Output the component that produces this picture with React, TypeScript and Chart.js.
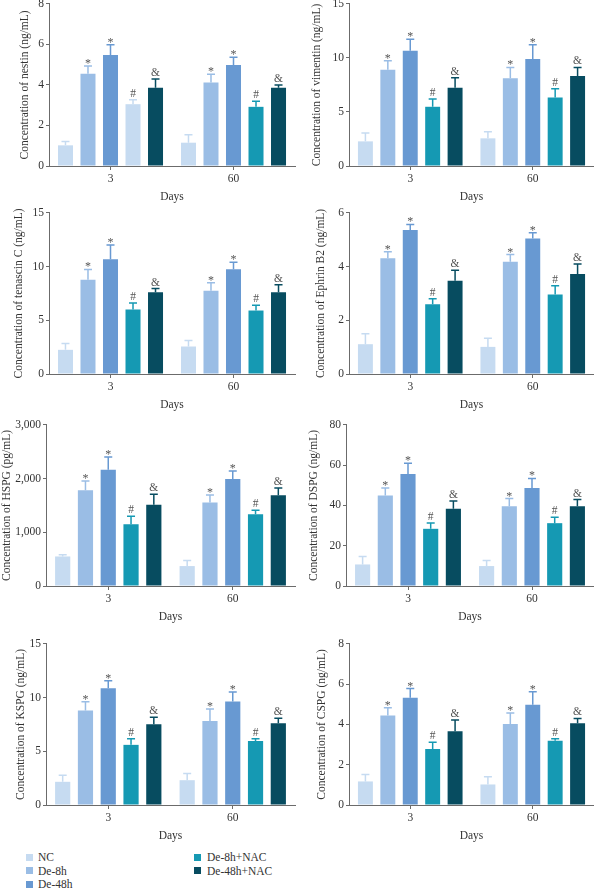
import React, { useEffect, useRef } from 'react';
import { Chart, registerables } from 'chart.js';

Chart.register(...registerables);

// ---------- data ----------
const days = ['3', '60'];
const groups = ['NC', 'De-8h', 'De-48h', 'De-8h+NAC', 'De-48h+NAC'];
const groupColors = ['#c6dbf1', '#9abde5', '#6899d2', '#1599b3', '#074c60'];
const groupMarks = ['', '*', '*', '#', '&'];

// each row = one group, values for [day 3, day 60]
const nestinMean = [[1.02, 1.15], [4.55, 4.12], [5.48, 4.99], [3.05, 2.92], [3.86, 3.86]];
const nestinSD = [[0.19, 0.39], [0.38, 0.41], [0.5, 0.38], [0.22, 0.28], [0.43, 0.14]];
// in the source figure the day-3 De-8h+NAC bar of the nestin panel is drawn pale
const nestinColors = [null, null, null, ['#c6dbf1', '#1599b3'], null];

const vimentinMean = [[2.28, 2.56], [8.9, 8.13], [10.66, 9.89], [5.48, 6.34], [7.24, 8.32]];
const vimentinSD = [[0.77, 0.61], [0.83, 0.99], [1.07, 1.32], [0.71, 0.8], [0.92, 0.8]];

const tenascinMean = [[2.25, 2.56], [8.78, 7.76], [10.69, 9.76], [6.0, 5.91], [7.61, 7.61]];
const tenascinSD = [[0.58, 0.55], [0.95, 0.74], [1.32, 0.65], [0.62, 0.5], [0.34, 0.71]];

const ephrinMean = [[1.11, 1.01], [4.31, 4.18], [5.36, 5.05], [2.6, 2.96], [3.47, 3.72]];
const ephrinSD = [[0.39, 0.32], [0.24, 0.27], [0.21, 0.21], [0.2, 0.33], [0.39, 0.38]];

const hspgMean = [[550, 371], [1781, 1553], [2165, 1992], [1150, 1336], [1515, 1689]];
const hspgSD = [[31, 105], [174, 142], [235, 148], [149, 74], [192, 136]];

const dspgMean = [[10.7, 9.9], [44.9, 39.6], [55.6, 48.7], [28.4, 31.2], [38.3, 39.6]];
const dspgSD = [[4.0, 2.8], [3.8, 3.8], [5.4, 4.7], [2.9, 2.9], [3.9, 3.3]];

const kspgMean = [[2.16, 2.31], [8.81, 7.82], [10.87, 9.64], [5.6, 5.97], [7.51, 7.61]];
const kspgSD = [[0.61, 0.62], [0.8, 1.11], [0.71, 0.89], [0.56, 0.19], [0.65, 0.46]];

const cspgMean = [[1.17, 1.02], [4.44, 4.02], [5.32, 4.98], [2.78, 3.19], [3.66, 4.06]];
const cspgSD = [[0.34, 0.38], [0.39, 0.55], [0.46, 0.64], [0.34, 0.1], [0.56, 0.24]];

// ---------- layout / style ----------
const FONT = "'Liberation Serif', 'Times New Roman', serif";
const FS = 11.5;
const TXT = '#333333';
const AXC = '#6b6b6b';

type Panel = {
  label: string;
  mean: number[][];
  sd: number[][];
  max: number;
  step: number;
  colors?: (string[] | null)[];
  x0: number;
  top: number;
  bottom: number;
  axisX: number;
  titleX: number;
};

const panels: Panel[] = [
  { label: 'Concentration of nestin (ng/mL)', mean: nestinMean, sd: nestinSD, max: 8, step: 2, colors: nestinColors, x0: 0, top: 3, bottom: 166, axisX: 49, titleX: 25 },
  { label: 'Concentration of vimentin (ng/mL)', mean: vimentinMean, sd: vimentinSD, max: 15, step: 5, x0: 297, top: 3, bottom: 166, axisX: 349, titleX: 317 },
  { label: 'Concentration of tenascin C (ng/mL)', mean: tenascinMean, sd: tenascinSD, max: 15, step: 5, x0: 0, top: 212, bottom: 374, axisX: 49, titleX: 19 },
  { label: 'Concentration of Ephrin B2 (ng/mL)', mean: ephrinMean, sd: ephrinSD, max: 6, step: 2, x0: 297, top: 212, bottom: 374, axisX: 349, titleX: 321 },
  { label: 'Concentration of HSPG (pg/mL)', mean: hspgMean, sd: hspgSD, max: 3000, step: 1000, x0: 0, top: 424, bottom: 586, axisX: 46, titleX: 6 },
  { label: 'Concentration of DSPG (ng/mL)', mean: dspgMean, sd: dspgSD, max: 80, step: 20, x0: 297, top: 424, bottom: 586, axisX: 346, titleX: 314 },
  { label: 'Concentration of KSPG (ng/mL)', mean: kspgMean, sd: kspgSD, max: 15, step: 5, x0: 0, top: 643, bottom: 805, axisX: 46, titleX: 21 },
  { label: 'Concentration of CSPG (ng/mL)', mean: cspgMean, sd: cspgSD, max: 8, step: 2, x0: 297, top: 643, bottom: 805, axisX: 349, titleX: 322 },
];

const errorPlugin = {
  id: 'errorBarsAndMarks',
  afterDatasetsDraw(chart: any) {
    const ctx = chart.ctx;
    const yScale = chart.scales.y;
    chart.data.datasets.forEach((ds: any, i: number) => {
      const meta = chart.getDatasetMeta(i);
      meta.data.forEach((el: any, j: number) => {
        const v = ds.data[j];
        const top = yScale.getPixelForValue(v + ds.sd[j]);
        const color = Array.isArray(ds.backgroundColor) ? ds.backgroundColor[j] : ds.backgroundColor;
        ctx.save();
        ctx.strokeStyle = color;
        ctx.lineWidth = 1.5;
        ctx.beginPath();
        ctx.moveTo(el.x, el.y);
        ctx.lineTo(el.x, top);
        ctx.moveTo(el.x - 4, top);
        ctx.lineTo(el.x + 4, top);
        ctx.stroke();
        if (ds.mark) {
          ctx.fillStyle = '#555555';
          ctx.font = `${ds.mark === '*' ? 12 : FS}px ${FONT}`;
          ctx.textAlign = 'center';
          ctx.textBaseline = 'alphabetic';
          const off = ds.mark === '*' ? 1 : -3;
          ctx.fillText(ds.mark, el.x, top + off);
        }
        ctx.restore();
      });
    });
  },
};

function PanelChart({ p }: { p: Panel }) {
  const ref = useRef<HTMLCanvasElement>(null);
  const W = 297;
  const H = p.bottom - p.top + 8 + 40;
  useEffect(() => {
    const canvas = ref.current!;
    const rightEdge = p.x0 === 0 ? 295 : 594;
    const font = { family: FONT, size: FS };
    const chart = new Chart(canvas, {
      type: 'bar',
      data: {
        labels: days,
        datasets: groups.map((g, i) => ({
          label: g,
          data: p.mean[i],
          sd: p.sd[i],
          mark: groupMarks[i],
          backgroundColor: p.colors && p.colors[i] ? p.colors[i] : groupColors[i],
          borderWidth: 0,
          barPercentage: 0.667,
          categoryPercentage: 0.915,
        })) as any,
      },
      options: {
        responsive: false,
        animation: false,
        devicePixelRatio: 1,
        layout: { padding: { top: 8, left: 0, right: p.x0 + W - rightEdge, bottom: 0 } },
        plugins: { legend: { display: false }, tooltip: { enabled: false } },
        scales: {
          x: {
            grid: { display: true, drawOnChartArea: false, drawTicks: true, tickLength: 4, offset: false, color: AXC },
            border: { display: true, color: AXC, width: 1 },
            ticks: { font, color: TXT, padding: 2 },
            title: { display: true, text: 'Days', font, color: TXT, padding: { top: 0, bottom: 2 } },
            afterFit: (s: any) => { s.height = 40; },
          },
          y: {
            min: 0,
            max: p.max,
            ticks: {
              stepSize: p.step,
              font,
              color: TXT,
              padding: 2,
              callback: (v: any) => Number(v).toLocaleString('en-US'),
            },
            grid: { display: true, drawOnChartArea: false, drawTicks: true, tickLength: 3, color: AXC },
            border: { display: true, color: AXC, width: 1 },
            title: {
              display: true,
              text: p.label,
              font,
              color: TXT,
              padding: { top: Math.max(0, p.titleX - p.x0 - FS * 0.6), bottom: 0 },
            },
            afterFit: (s: any) => { s.width = p.axisX - p.x0; },
          },
        },
      } as any,
      plugins: [errorPlugin],
    });
    return () => chart.destroy();
  }, [p]);
  return (
    <canvas
      ref={ref}
      width={W}
      height={H}
      style={{ position: 'absolute', left: p.x0, top: p.top - 8, width: W, height: H }}
    />
  );
}

export default function App() {
  return (
    <div style={{ position: 'absolute', left: 0, top: 0, width: 594, height: 888, background: '#ffffff', overflow: 'hidden', fontFamily: FONT }}>
      {panels.map((p) => (
        <PanelChart key={p.label} p={p} />
      ))}
      {groups.map((g, i) => {
        const col = i < 3 ? 0 : 1;
        const row = i < 3 ? i : i - 3;
        const y = 857 + row * 13.5;
        return (
          <div key={g}>
            <div style={{ position: 'absolute', left: col ? 194 : 26, top: y - 3.5, width: 7, height: 7, background: groupColors[i] }} />
            <div style={{ position: 'absolute', left: col ? 207 : 38, top: y - 8, height: 16, lineHeight: '16px', fontSize: FS, color: TXT, whiteSpace: 'nowrap' }}>{g}</div>
          </div>
        );
      })}
    </div>
  );
}
